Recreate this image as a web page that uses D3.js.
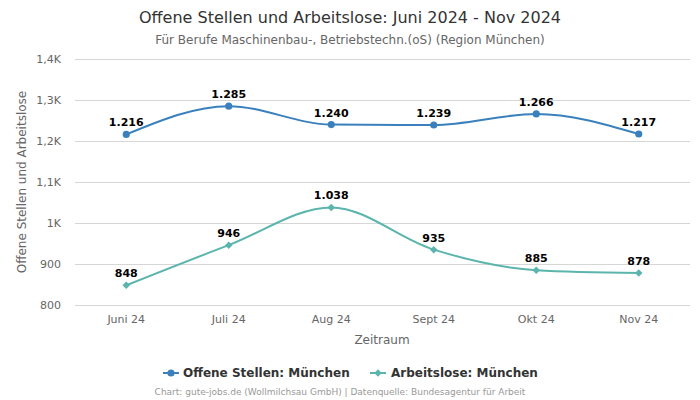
<!DOCTYPE html>
<html><head><meta charset="utf-8">
<script src="https://cdn.jsdelivr.net/npm/d3@7"></script>
<style>body{margin:0;background:#fff;font-family:"DejaVu Sans",sans-serif;}</style>
</head><body><svg id="c" width="700" height="400"></svg>
<script>
const categories = ["Juni 24","Juli 24","Aug 24","Sept 24","Okt 24","Nov 24"];
const offeneStellen = [1216,1285,1240,1239,1266,1217];
const arbeitslose = [848,946,1038,935,885,878];
const yTicks = [800,900,1000,1100,1200,1300,1400];
const yTickLabels = ["800","900","1K","1,1K","1,2K","1,3K","1,4K"];
const seriesNames = ["Offene Stellen: München","Arbeitslose: München"];

const svg = d3.select("#c");
const pLeft=75, pRight=690, pTop=59, pBottom=305;
const x = d3.scaleBand().domain(categories).range([pLeft,pRight]);
const y = d3.scaleLinear().domain([800,1400]).range([pBottom,pTop]);
const fmtDE = v => { const s=String(v); return s.length>3 ? s.slice(0,-3)+"."+s.slice(-3) : s; };

svg.append("text").attr("x",350).attr("y",23).attr("text-anchor","middle")
  .attr("font-size",16).attr("fill","#333").text("Offene Stellen und Arbeitslose: Juni 2024 - Nov 2024");
svg.append("text").attr("x",350).attr("y",44).attr("text-anchor","middle")
  .attr("font-size",12).attr("fill","#666").text("Für Berufe Maschinenbau-, Betriebstechn.(oS) (Region München)");

const yAxis = d3.axisLeft(y).tickValues(yTicks).tickFormat((d,i)=>yTickLabels[i]).tickSize(-(pRight-pLeft)).tickPadding(14);
const gy = svg.append("g").attr("transform",`translate(${pLeft},0)`).call(yAxis);
gy.select(".domain").remove();
gy.selectAll(".tick line").attr("stroke","#d6d6d6");
gy.selectAll(".tick text").attr("fill","#666").attr("font-size",11).attr("font-family","DejaVu Sans");

const xAxis = d3.axisBottom(x).tickSize(0).tickPadding(10);
const gx = svg.append("g").attr("transform",`translate(0,${pBottom})`).call(xAxis);
gx.select(".domain").remove();
gx.selectAll(".tick text").attr("fill","#666").attr("font-size",11).attr("font-family","DejaVu Sans");

svg.append("text").attr("transform",`translate(26,${(pTop+pBottom)/2}) rotate(-90)`).attr("text-anchor","middle")
  .attr("font-size",12).attr("fill","#666").text("Offene Stellen und Arbeitslose");
svg.append("text").attr("x",382).attr("y",344).attr("text-anchor","middle")
  .attr("font-size",12).attr("fill","#666").text("Zeitraum");

const colors = ["#3a80bd","#5bb5ad"];
const line = d3.line().x((d,i)=>x(categories[i])+x.bandwidth()/2).y(d=>y(d)).curve(d3.curveMonotoneX);
[offeneStellen, arbeitslose].forEach((data,si)=>{
  svg.append("path").attr("d",line(data)).attr("fill","none").attr("stroke",colors[si]).attr("stroke-width",2);
  const sym = d3.symbol().type(si===0?d3.symbolCircle:d3.symbolDiamond2).size(si===0?40:36);
  svg.selectAll(null).data(data).enter().append("path")
    .attr("d",sym).attr("fill",colors[si])
    .attr("transform",(d,i)=>`translate(${x(categories[i])+x.bandwidth()/2},${y(d)})`);
  svg.selectAll(null).data(data).enter().append("text")
    .attr("x",(d,i)=>x(categories[i])+x.bandwidth()/2).attr("y",d=>y(d)-8)
    .attr("text-anchor","middle").attr("font-size",11).attr("font-weight","bold").attr("fill","#000")
    .text(d=>fmtDE(d));
});

const lg = svg.append("g");
const items = [{x:163,tx:183},{x:370,tx:391}];
items.forEach((it,si)=>{
  lg.append("line").attr("x1",it.x).attr("x2",it.x+16).attr("y1",373).attr("y2",373).attr("stroke",colors[si]).attr("stroke-width",2);
  lg.append("path").attr("d",d3.symbol().type(si===0?d3.symbolCircle:d3.symbolDiamond2).size(si===0?40:36)())
    .attr("fill",colors[si]).attr("transform",`translate(${it.x+8},373)`);
  lg.append("text").attr("x",it.tx).attr("y",377).attr("font-size",12).attr("font-weight","bold").attr("fill","#333").text(seriesNames[si]);
});
svg.append("text").attr("x",340).attr("y",395).attr("text-anchor","middle").attr("font-size",9).attr("fill","#999")
  .text("Chart: gute-jobs.de (Wollmilchsau GmbH) | Datenquelle: Bundesagentur für Arbeit");
</script></body></html>
